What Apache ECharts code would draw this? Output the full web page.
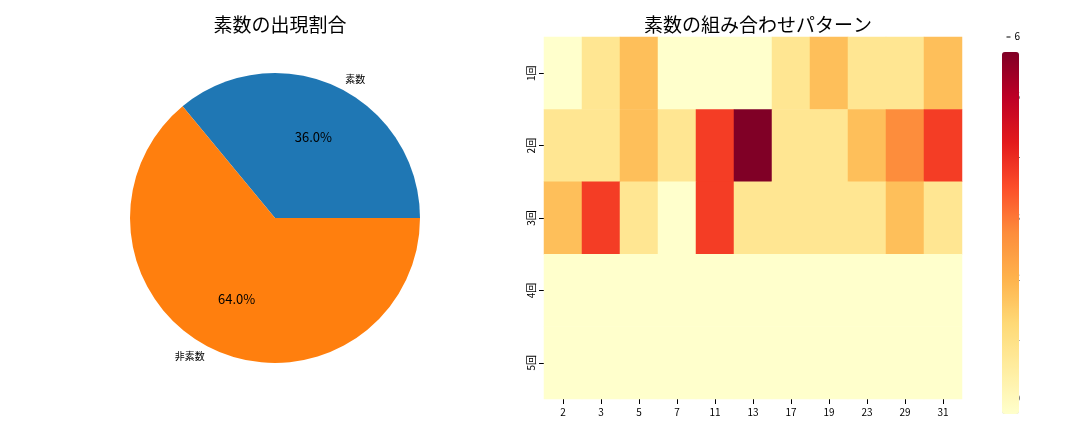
<!DOCTYPE html>
<html>
<head>
<meta charset="utf-8">
<script src="https://cdn.jsdelivr.net/npm/echarts@6/dist/echarts.min.js"></script>
<style>html,body{margin:0;padding:0;background:#fff}#main{width:1080px;height:432px}</style>
</head>
<body>
<div id="main"></div>
<script>
const pieNames = ['素数', '非素数'];
const pieValues = [36, 64];
const primes = ['2', '3', '5', '7', '11', '13', '17', '19', '23', '29', '31'];
const rounds = ['1回', '2回', '3回', '4回', '5回'];
const counts = [
    [0, 1, 2, 0, 0, 0, 1, 2, 1, 1, 2],
    [1, 1, 2, 1, 4, 6, 1, 1, 2, 3, 4],
    [2, 4, 1, 0, 4, 1, 1, 1, 1, 2, 1],
    [0, 0, 0, 0, 0, 0, 0, 0, 0, 0, 0],
    [0, 0, 0, 0, 0, 0, 0, 0, 0, 0, 0]
];
const font = '"Noto Sans CJK JP", "DejaVu Sans", sans-serif';

const heatData = [];
counts.forEach((row, r) => row.forEach((v, c) => heatData.push([c, r, v])));
const pieData = pieNames.map((n, i) => ({ name: n, value: pieValues[i] }));

const chart = echarts.init(document.getElementById('main'));
const option = {
    textStyle: { fontFamily: font },
    title: [
        { text: '素数の出現割合', left: 275, top: 10, textAlign: 'center',
          textStyle: { fontSize: 19, fontWeight: 'normal', color: '#000', fontFamily: font } },
        { text: '素数の組み合わせパターン', left: 753, top: 10, textAlign: 'center',
          textStyle: { fontSize: 19, fontWeight: 'normal', color: '#000', fontFamily: font } }
    ],
    color: ['#1f77b4', '#ff7f0e'],
    grid: { left: 544, right: 118, top: 37, bottom: 33 },
    xAxis: {
        type: 'category', data: primes,
        axisLine: { show: false },
        axisTick: { show: true, alignWithLabel: true, lineStyle: { color: '#000' } },
        axisLabel: { color: '#000', fontSize: 10, fontFamily: font },
        splitArea: { show: false }
    },
    yAxis: {
        type: 'category', data: rounds, inverse: true,
        axisLine: { show: false },
        axisTick: { show: true, alignWithLabel: true, lineStyle: { color: '#000' } },
        axisLabel: { color: '#000', fontSize: 10, rotate: 90, fontFamily: font }
    },
    visualMap: {
        min: 0, max: 6, calculable: false,
        orient: 'vertical', left: 987, top: 37, itemWidth: 17, itemHeight: 362,
        text: ['', ''], showLabel: false,
        inRange: { color: ['#ffffcc', '#ffeda0', '#fed976', '#feb24c', '#fd8d3c', '#fc4e2a', '#e31a1c', '#bd0026', '#800026'] },
        seriesIndex: 2
    },
    graphic: [0, 1, 2, 3, 4, 5, 6].map(v => ({
        type: 'group', left: 1004, top: 399 - v * 362 / 6 - 6,
        children: [
            { type: 'line', shape: { x1: 0, y1: 6, x2: 4, y2: 6 }, style: { stroke: '#000' } },
            { type: 'text', left: 8, top: 0, style: { text: String(v), fontSize: 10, fill: '#000', fontFamily: font } }
        ]
    })),
    series: [
        {
            type: 'pie', center: [275, 218], radius: 145, startAngle: 0, clockwise: false,
            data: pieData, silent: true,
            label: { position: 'outside', fontSize: 10, color: '#000', fontFamily: font },
            labelLine: { show: true, length: 8, length2: 0, lineStyle: { opacity: 0 } }
        },
        {
            type: 'pie', center: [275, 218], radius: [29, 145], startAngle: 0, clockwise: false,
            data: pieData, silent: true,
            itemStyle: { color: 'rgba(0,0,0,0)' },
            label: { position: 'inside', fontSize: 13, color: '#000', fontFamily: font,
                     formatter: p => p.value.toFixed(1) + '%' },
            labelLine: { show: false }
        },
        {
            type: 'heatmap', data: heatData, silent: true,
            itemStyle: { borderWidth: 0 }
        }
    ]
};
chart.setOption(option);
</script>
</body>
</html>
